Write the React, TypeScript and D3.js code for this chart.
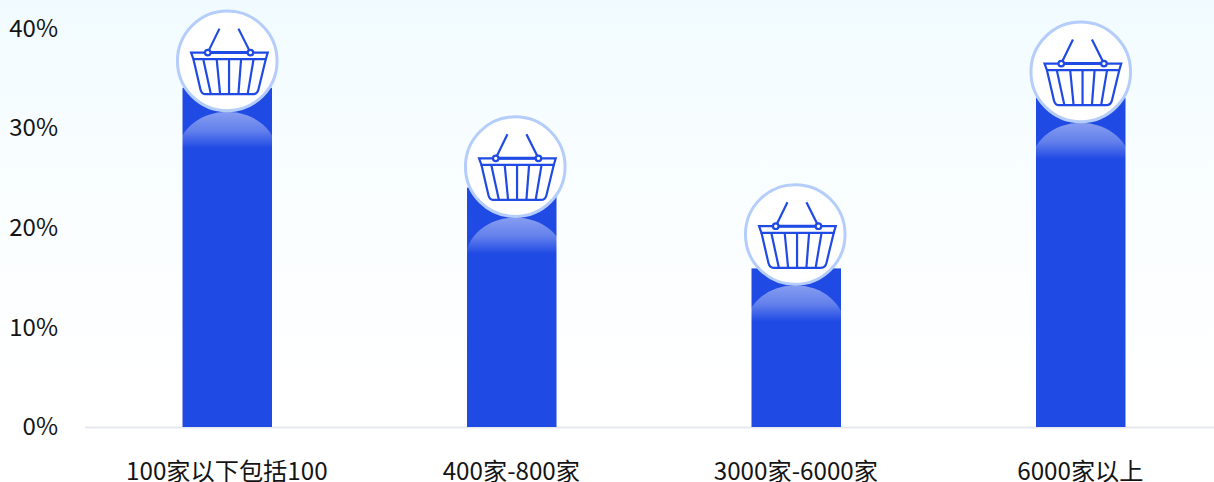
import React from "react";
import * as d3 from "d3";

const categories = ["100家以下包括100", "400家-800家", "3000家-6000家", "6000家以上"];
const shares = [34, 24, 15.9, 33];
// Height of each badge on the value axis, and its sideways nudge from the bar centre in px.
const badgeLevels = [36.7, 26.1, 19.3, 35.6];
const badgeNudge = [0, 3.5, -1, 0];
const yTicks = [0, 10, 20, 30, 40];

const W = 1214;
const H = 482;
const BLUE = "#204ae4";
const INK = "#141414";
const FONT = '"Noto Sans CJK SC", "Noto Sans", sans-serif';

const x = d3.scaleBand<string>().domain(categories).range([85, 1223]);
const y = d3.scaleLinear().domain([0, 40]).range([427, 28]);
// Tick labels sit on a very slightly tighter scale than the bars.
const yLabel = d3.scaleLinear().domain([0, 40]).range([426.5, 28.2]);
const BAR_W = 89.5;
const BADGE_R = 49.8;

const line = d3.line();
const hangers = [
  [[-7.8, -32.3], [-19.5, -8.3]],
  [[11.2, -32.3], [23.2, -8.3]],
] as [number, number][][];
const slats = [
  [[-23.8, -1], [-16.5, 32.7]],
  [[-10.5, -1], [-7.2, 32.7]],
  [[1.8, -1], [1.8, 32.7]],
  [[13.8, -1], [11.2, 32.7]],
  [[26.2, -1], [20.5, 32.7]],
] as [number, number][][];

function Basket() {
  return (
    <g fill="none" stroke={BLUE} strokeWidth={2.2}>
      {hangers.map((h, i) => <path key={i} d={line(h)!} />)}
      <path d="M-36.2 -8.3H40.5L38.5 -1.7H-33.8Z" />
      <path d="M-19.5 -8.3H23.2" strokeWidth={3} />
      <path d="M-33.8 -1.7L-26.8 28.5Q-25.6 33.3 -21.5 33.3H25.5Q30 33.3 31.2 28.5L38.5 -1.7" />
      {slats.map((s, i) => <path key={i} d={line(s)!} />)}
      <circle cx={-19.5} cy={-8.3} r={2.8} fill="#fff" />
      <circle cx={23.2} cy={-8.3} r={2.8} fill="#fff" />
    </g>
  );
}

export default function App() {
  return (
    <svg
      width={W}
      height={H}
      viewBox={`0 0 ${W} ${H}`}
      style={{ position: "fixed", left: 0, top: 0, display: "block" }}
      fontFamily={FONT}
    >
      <defs>
        <linearGradient id="page" x1="0" y1="0" x2="0" y2="1">
          <stop offset="0" stopColor="#f1fbff" />
          <stop offset="0.3" stopColor="#f7fdff" />
          <stop offset="0.9" stopColor="#ffffff" />
        </linearGradient>
        <linearGradient id="sheen" x1="0" y1="0" x2="0" y2="1">
          <stop offset="0" stopColor="#fff" stopOpacity={0.46} />
          <stop offset="0.22" stopColor="#fff" stopOpacity={0.3} />
          <stop offset="0.42" stopColor="#fff" stopOpacity={0} />
        </linearGradient>
      </defs>
      <rect width={W} height={H} fill="#fff" />
      <rect width={W} height={430} fill="url(#page)" />

      <line x1={85} x2={W} y1={427.5} y2={427.5} stroke="#e6e8ee" strokeWidth={2} />

      {yTicks.map((t) => (
        <text key={t} x={58} y={yLabel(t)} dy="0.36em" textAnchor="end" fontSize={24} fill={INK}>
          {t}%
        </text>
      ))}

      {categories.map((c, i) => {
        const center = x(c)! + x.bandwidth() / 2;
        const top = y(shares[i]);
        const cx = center + badgeNudge[i];
        const cy = y(badgeLevels[i]);
        return (
          <g key={c}>
            <rect x={center - BAR_W / 2} y={top} width={BAR_W} height={y(0) - top} fill={BLUE} />
            <ellipse
              cx={cx}
              cy={cy + BADGE_R + 1 + 43}
              rx={50}
              ry={43}
              fill="url(#sheen)"
            />
            <circle cx={cx} cy={cy} r={BADGE_R} fill="#fff" stroke="#b4cdfb" strokeWidth={3} />
            <g transform={`translate(${cx},${cy})`}>
              <Basket />
            </g>
            <text x={center - 0.4} y={479.5} textAnchor="middle" fontSize={24.2} fill={INK}>
              {c}
            </text>
          </g>
        );
      })}
    </svg>
  );
}
